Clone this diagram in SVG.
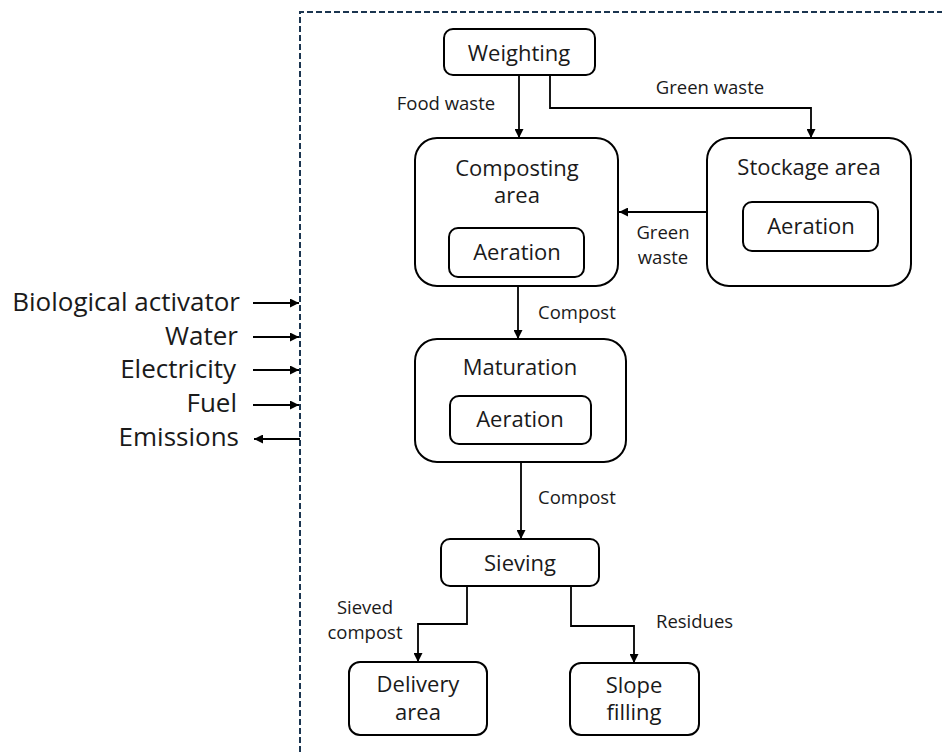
<svg xmlns="http://www.w3.org/2000/svg" width="942" height="752" viewBox="0 0 942 752">
<style>
.box{fill:#fff;stroke:#000;stroke-width:2}
.t{font-family:"Open Sans","Liberation Sans",sans-serif;font-size:22px;fill:#1a1a1a;text-anchor:middle}
.l{font-family:"Open Sans","Liberation Sans",sans-serif;font-size:18.5px;fill:#1a1a1a}
.s{font-family:"Open Sans","Liberation Sans",sans-serif;font-size:26px;fill:#1a1a1a;text-anchor:end}
.c{fill:none;stroke:#000;stroke-width:1.8}
</style>
<defs>
<marker id="ah" viewBox="0 0 10 10" refX="10" refY="5" markerWidth="5" markerHeight="5" orient="auto" markerUnits="strokeWidth">
<path d="M0,0 L10,5 L0,10 z" fill="#000"/>
</marker>
</defs>
<rect width="942" height="752" fill="#fff"/>
<path id="frame" d="M300,752 V12 H942" fill="none" stroke="#1b3550" stroke-width="2" stroke-dasharray="6,3"/>
<g id="connectors">
<path class="c" d="M519,75 V138" marker-end="url(#ah)"/>
<path class="c" d="M550,75 V108 H811 V138" marker-end="url(#ah)"/>
<path class="c" d="M707,212 H619" marker-end="url(#ah)"/>
<path class="c" d="M518,286 V339" marker-end="url(#ah)"/>
<path class="c" d="M521,462 V539" marker-end="url(#ah)"/>
<path class="c" d="M467,586 V624 H418 V662" marker-end="url(#ah)"/>
<path class="c" d="M571,586 V626 H634 V663" marker-end="url(#ah)"/>
<path class="c" d="M253,303 H299" marker-end="url(#ah)"/>
<path class="c" d="M253,337 H299" marker-end="url(#ah)"/>
<path class="c" d="M253,370 H299" marker-end="url(#ah)"/>
<path class="c" d="M253,405 H299" marker-end="url(#ah)"/>
<path class="c" d="M300,439 H254" marker-end="url(#ah)"/>
<text class="l" x="446" y="110" text-anchor="middle">Food waste</text>
<text class="l" x="710" y="94" text-anchor="middle">Green waste</text>
<text class="l" text-anchor="middle"><tspan x="663" y="239">Green</tspan><tspan x="663" y="264">waste</tspan></text>
<text class="l" x="538" y="319">Compost</text>
<text class="l" x="538" y="504">Compost</text>
<text class="l" text-anchor="middle"><tspan x="365" y="614">Sieved</tspan><tspan x="365" y="639">compost</tspan></text>
<text class="l" x="656" y="628">Residues</text>
</g>
<g id="inputs">
<text class="s" x="240" y="311">Biological activator</text>
<text class="s" x="238" y="345">Water</text>
<text class="s" x="236" y="378">Electricity</text>
<text class="s" x="237" y="412">Fuel</text>
<text class="s" x="239" y="446">Emissions</text>
</g>
<g id="weighting">
<rect class="box" x="444" y="29" width="151" height="46" rx="9"/>
<text class="t" x="519" y="61">Weighting</text>
</g>
<g id="composting">
<rect class="box" x="415" y="138" width="203" height="148" rx="22"/>
<text class="t"><tspan x="517" y="176">Composting</tspan><tspan x="517" y="203">area</tspan></text>
</g>
<g id="composting-aeration">
<rect class="box" x="449" y="228" width="135" height="49" rx="9"/>
<text class="t" x="517" y="260">Aeration</text>
</g>
<g id="stockage">
<rect class="box" x="707" y="138" width="204" height="148" rx="22"/>
<text class="t" x="809" y="175">Stockage area</text>
</g>
<g id="stockage-aeration">
<rect class="box" x="743" y="202" width="135" height="49" rx="9"/>
<text class="t" x="811" y="234">Aeration</text>
</g>
<g id="maturation">
<rect class="box" x="415" y="339" width="211" height="123" rx="22"/>
<text class="t" x="520" y="375">Maturation</text>
</g>
<g id="maturation-aeration">
<rect class="box" x="450" y="396" width="141" height="48" rx="9"/>
<text class="t" x="520" y="427">Aeration</text>
</g>
<g id="sieving">
<rect class="box" x="441" y="539" width="158" height="47" rx="9"/>
<text class="t" x="520" y="571">Sieving</text>
</g>
<g id="delivery">
<rect class="box" x="349" y="662" width="138" height="73" rx="11"/>
<text class="t"><tspan x="418" y="692">Delivery</tspan><tspan x="418" y="720">area</tspan></text>
</g>
<g id="slope">
<rect class="box" x="570" y="663" width="129" height="72" rx="11"/>
<text class="t"><tspan x="634" y="693">Slope</tspan><tspan x="634" y="720">filling</tspan></text>
</g>
</svg>
